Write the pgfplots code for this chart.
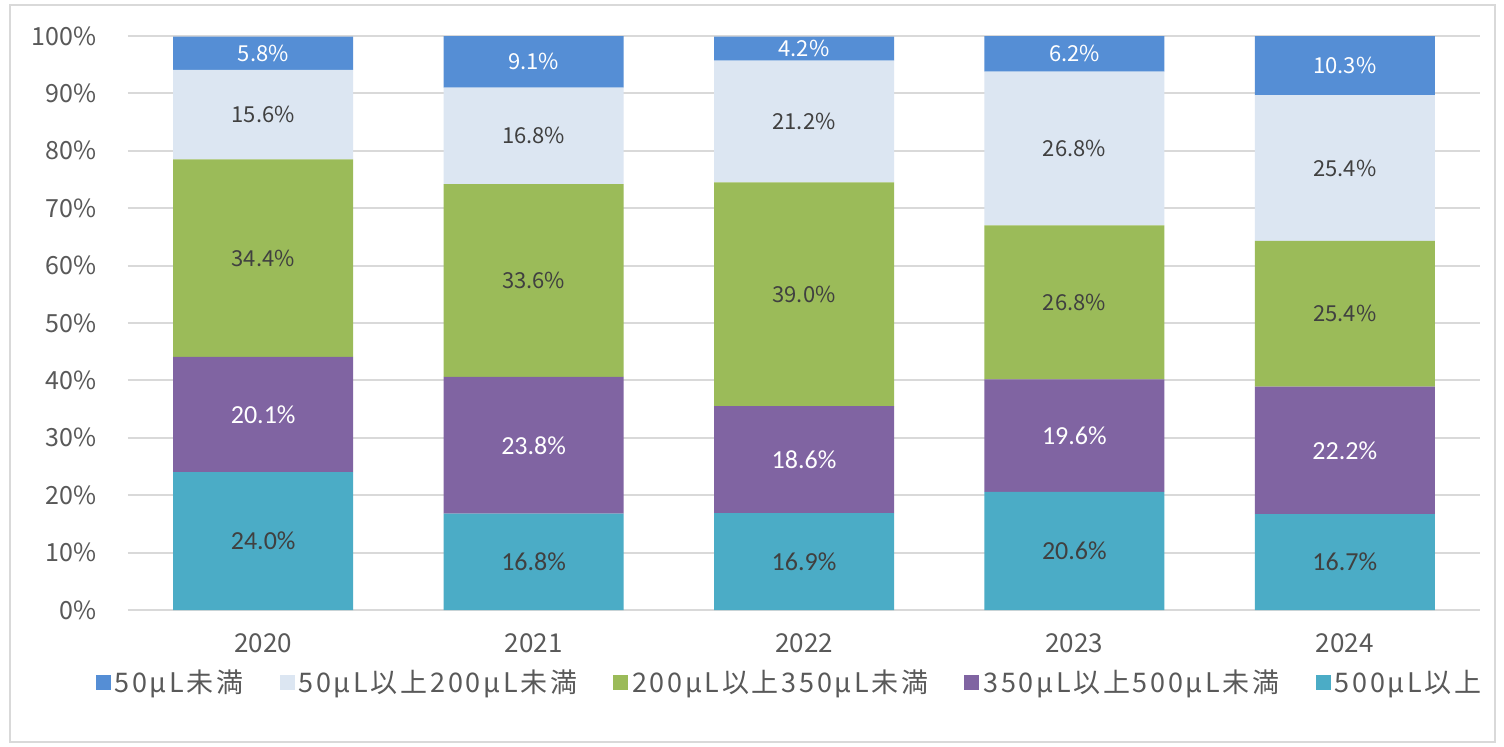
\documentclass[border=0pt]{standalone}
\usepackage{pgfplots}
\usepackage{pgfplotstable}
\pgfplotsset{compat=1.18}
\usepackage{fontspec}
\setmainfont{Noto Sans CJK JP}
\newfontfamily\calfont{Carlito}
\newfontfamily\legfont{Noto Sans CJK JP}[LetterSpace=10]
\definecolor{cBlue}{HTML}{558ED5}
\definecolor{cLight}{HTML}{DCE6F2}
\definecolor{cGreen}{HTML}{9BBB59}
\definecolor{cPurple}{HTML}{8064A2}
\definecolor{cTeal}{HTML}{4BACC6}
\definecolor{cGrid}{HTML}{D9D9D9}
\definecolor{cText}{HTML}{595959}
\definecolor{cLab}{HTML}{404040}

\pgfplotstableread{
x teal purple green light blue
0 24.0 20.1 34.4 15.6 5.8
1 16.8 23.8 33.6 16.8 9.1
2 16.9 18.6 39.0 21.2 4.2
3 20.6 19.6 26.8 26.8 6.2
4 16.7 22.2 25.4 25.4 10.3
}\datatable

% label positions (segment midpoints) and label texts
\pgfplotstableread{
x yt lt yp lp yg lg yl ll yb lb
0 12.00 24.0 34.05 20.1 61.30 34.4 86.30 15.6 97.00 5.8
1 8.40 16.8 28.70 23.8 57.40 33.6 82.60 16.8 95.55 9.1
2 8.45 16.9 26.20 18.6 55.00 39.0 85.10 21.2 97.80 4.2
3 10.30 20.6 30.40 19.6 53.60 26.8 80.40 26.8 96.90 6.2
4 8.35 16.7 27.80 22.2 51.60 25.4 77.00 25.4 94.85 10.3
}\labtable

\pgfplotsset{
  base/.style={
    width=676pt, height=287pt, scale only axis,
    at={(0,0)}, anchor=south west,
    xmin=-0.5, xmax=4.5, ymin=0, ymax=100,
  },
}

\begin{document}
\begin{tikzpicture}
\useasboundingbox (-64pt,-68pt) rectangle (688pt,305pt);
\fill[white] (-64pt,-68pt) rectangle (688pt,305pt);
\draw[cGrid, line width=1pt] (-59pt,-66pt) rectangle (683.5pt,302.5pt);
\begin{axis}[
  base,
  ybar stacked,
  bar width=90pt,
  axis line style={draw=none},
  tick style={draw=none},
  ymajorgrids,
  grid style={cGrid, line width=1pt},
  ytick={0,10,...,100},
  yticklabels={0\%,10\%,20\%,30\%,40\%,50\%,60\%,70\%,80\%,90\%,100\%},
  yticklabel style={font=\fontsize{12.5}{14}\selectfont, text=cText, inner sep=0pt, xshift=-15.5pt},
  xtick={0,1,2,3,4},
  xticklabels={2020,2021,2022,2023,2024},
  xticklabel style={font=\fontsize{13}{15}\selectfont, text=cText, inner sep=0pt, anchor=center, yshift=-16.5pt},
  legend style={at={(0.49,-0.127)}, anchor=center, draw=none, fill=none,
    legend columns=5, font=\legfont\fontsize{13.5}{15}\selectfont, text=cText,
    /tikz/every even column/.append style={column sep=16pt},
    /tikz/every odd column/.append style={column sep=0pt},
    inner sep=0pt},
  legend cell align=left,
  legend image code/.code={\fill[#1] (0pt,-3.75pt) rectangle (7.5pt,3.75pt);},
  reverse legend,
]
\addplot[fill=cTeal, draw=none] table[x=x, y=teal] {\datatable};
\addlegendentry{500μL以上}
\addplot[fill=cPurple, draw=none] table[x=x, y=purple] {\datatable};
\addlegendentry{350μL以上500μL未満}
\addplot[fill=cGreen, draw=none] table[x=x, y=green] {\datatable};
\addlegendentry{200μL以上350μL未満}
\addplot[fill=cLight, draw=none] table[x=x, y=light] {\datatable};
\addlegendentry{50μL以上200μL未満}
\addplot[fill=cBlue, draw=none] table[x=x, y=blue] {\datatable};
\addlegendentry{50μL未満}
\end{axis}
\begin{axis}[
  base, hide axis,
  nodes near coords={\pgfplotspointmeta\%},
  point meta=explicit symbolic,
]
\addplot[draw=none, mark=none, every node near coord/.style={anchor=center, text=cLab, font=\calfont\fontsize{13}{15}\selectfont}]
  table[x=x, y=yt, meta=lt] {\labtable};
\addplot[draw=none, mark=none, every node near coord/.style={anchor=center, text=white, font=\calfont\fontsize{13}{15}\selectfont}]
  table[x=x, y=yp, meta=lp] {\labtable};
\addplot[draw=none, mark=none, every node near coord/.style={anchor=center, text=cLab, font=\fontsize{11}{13}\selectfont}]
  table[x=x, y=yg, meta=lg] {\labtable};
\addplot[draw=none, mark=none, every node near coord/.style={anchor=center, text=cLab, font=\fontsize{11}{13}\selectfont}]
  table[x=x, y=yl, meta=ll] {\labtable};
\addplot[draw=none, mark=none, every node near coord/.style={anchor=center, text=white, font=\fontsize{11}{13}\selectfont}]
  table[x=x, y=yb, meta=lb] {\labtable};
\end{axis}
\end{tikzpicture}
\end{document}
